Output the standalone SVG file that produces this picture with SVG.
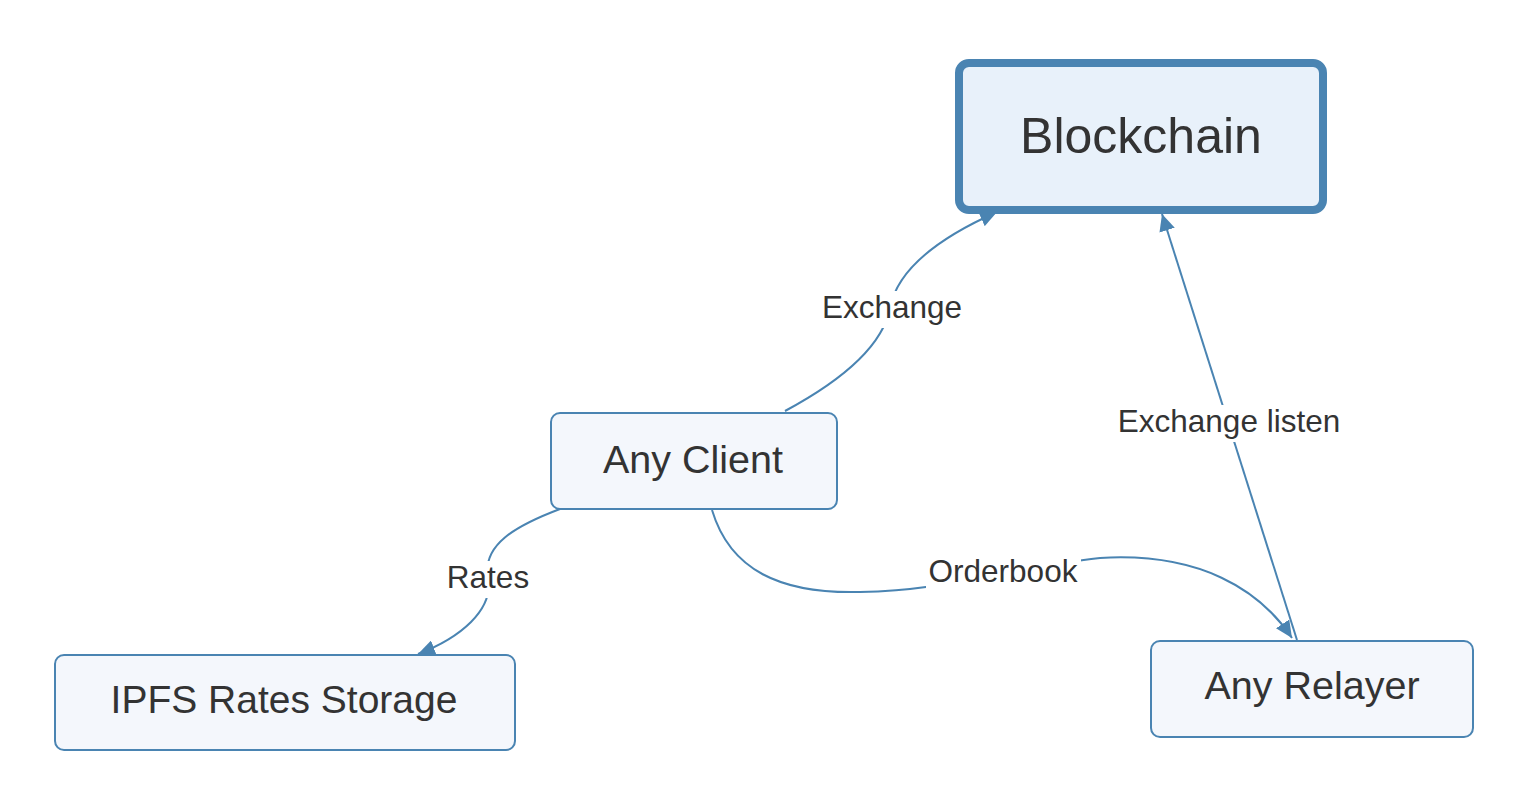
<svg xmlns="http://www.w3.org/2000/svg" width="1528" height="804" viewBox="0 0 1528 804">
<defs>
<style>
.node rect{fill:#f4f7fc;stroke:#4a84b2;stroke-width:2}
#blockchain rect{fill:#e8f1fa;stroke:#4a84b2;stroke-width:8}
.nt{font-family:"Liberation Sans",Arial,sans-serif;fill:#333;text-anchor:middle}
.edge{fill:none;stroke:#4a84b2;stroke-width:2}
.lbg{fill:#fff}
.lt{font-family:"Liberation Sans",Arial,sans-serif;fill:#333;font-size:31.5px;text-anchor:middle}
</style>
<marker id="arr" markerUnits="userSpaceOnUse" markerWidth="18" markerHeight="16" refX="17" refY="8" orient="auto">
<path d="M0,0 L17,8 L0,16 z" fill="#4a84b2"/>
</marker>
</defs>
<rect width="1528" height="804" fill="#fff"/>
<g id="connectors">
<path class="edge" d="M785,411 Q880,360 890,308 Q900,255 997,212" marker-end="url(#arr)"/>
<path class="edge" d="M1297,640 L1162,214" marker-end="url(#arr)"/>
<path class="edge" d="M712,510 C730,570 780,594 860,592 C950,590 1000,570 1100,558 C1200,552 1260,590 1292,638" marker-end="url(#arr)"/>
<path class="edge" d="M560,509 C515,526 482,545 488,578 C494,610 460,638 418,654" marker-end="url(#arr)"/>
<rect class="lbg" x="818" y="291" width="148" height="37"/>
<text class="lt" x="892" y="318">Exchange</text>
<rect class="lbg" x="1114" y="405" width="230" height="37"/>
<text class="lt" x="1229" y="432">Exchange listen</text>
<rect class="lbg" x="926" y="555" width="155" height="37"/>
<text class="lt" x="1003" y="582">Orderbook</text>
<rect class="lbg" x="444" y="561" width="89" height="37"/>
<text class="lt" x="488" y="588">Rates</text>
</g>
<g id="blockchain" class="node">
<rect x="959" y="63" width="364" height="147" rx="10"/>
<text class="nt" x="1141" y="153" font-size="50">Blockchain</text>
</g>
<g id="any-client" class="node">
<rect x="551" y="413" width="286" height="96" rx="9"/>
<text class="nt" x="693" y="473" font-size="39.5">Any Client</text>
</g>
<g id="ipfs" class="node">
<rect x="55" y="655" width="460" height="95" rx="9"/>
<text class="nt" x="284" y="713" font-size="39">IPFS Rates Storage</text>
</g>
<g id="any-relayer" class="node">
<rect x="1151" y="641" width="322" height="96" rx="9"/>
<text class="nt" x="1312" y="699" font-size="39.5">Any Relayer</text>
</g>
</svg>
